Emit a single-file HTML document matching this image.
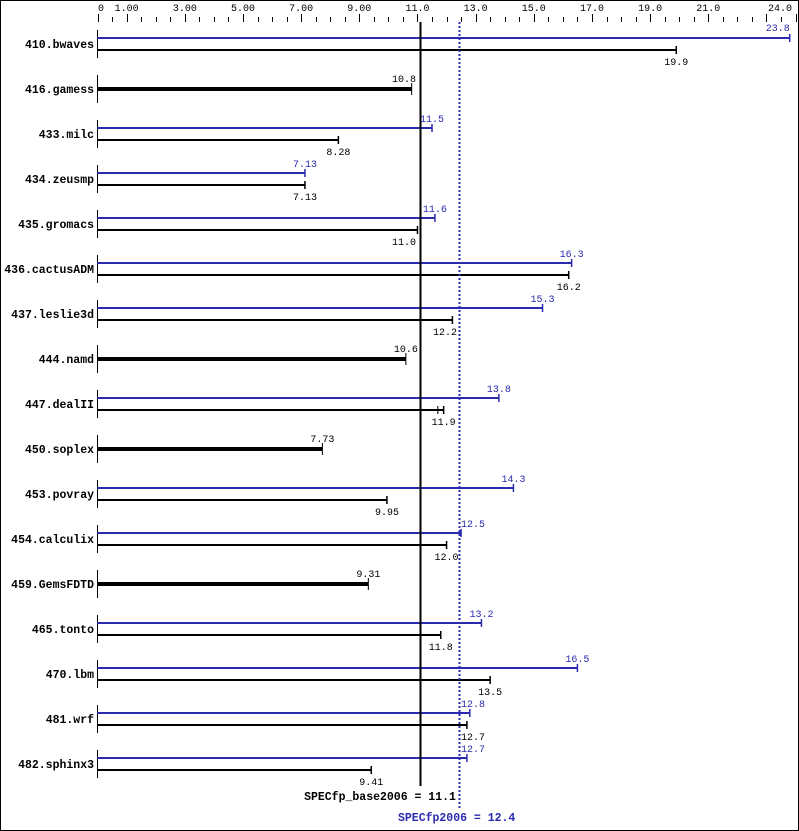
<!DOCTYPE html>
<html><head><meta charset="utf-8"><style>
html,body{margin:0;padding:0;background:#fff}
svg{display:block}
text{font-family:"Liberation Mono","DejaVu Sans Mono",monospace;font-size:10px}
.n{font-weight:bold;font-size:11.5px}
</style></head><body>
<svg id="s" width="799" height="831" viewBox="0 0 799 831" xmlns="http://www.w3.org/2000/svg">
<rect x="0.5" y="0.5" width="798" height="830" fill="#fff" stroke="#000"/>
</svg>
<script>
const s=document.getElementById('s');
const O=97.6,K=29.08,X=v=>O+v*K;
let h='';
const L=(x1,y1,x2,y2,c,w,extra)=>h+=`<line x1="${x1}" y1="${y1}" x2="${x2}" y2="${y2}" stroke="${c}" stroke-width="${w}" ${extra||''}/>`;
const T=(x,y,t,c,a,cl)=>h+=`<text x="${x}" y="${y}" fill="${c}" text-anchor="${a||'middle'}" ${cl?'class="'+cl+'"':''}>${t}</text>`;
const VT=(xc,y,t,c)=>{const w=t.length*6;let x0=xc-w/2;
 if(x0<420&&x0+w>420){ if(xc<420) x0=416-w; else x0=422;}
 if(x0<459&&x0+w>459){ if(xc<459) x0=457-w; else x0=461;}
 T(x0,y,t,c,'start');};
for(let v=0;v<=24.01;v+=0.5){const x=Math.round(X(v))+0.5;const major=(v===0)||(Math.abs((v-1)%2)<0.01&&v>=1)||v===24;L(x,major?14:17,x,22,'#000',1);}
T(101,11,'0','#000');
const labs=[[1,'1.00'],[3,'3.00'],[5,'5.00'],[7,'7.00'],[9,'9.00'],[11,'11.0'],[13,'13.0'],[15,'15.0'],[17,'17.0'],[19,'19.0'],[21,'21.0']];
labs.forEach(([v,t])=>T(X(v),11,t,'#000'));
T(792,11,'24.0','#000','end');
const B='#2a2ab0';
const rows=[['410.bwaves',23.8,19.9],['416.gamess',null,10.8],['433.milc',11.5,8.28],['434.zeusmp',7.13,7.13],['435.gromacs',11.6,11.0],['436.cactusADM',16.3,16.2],['437.leslie3d',15.3,12.2],['444.namd',null,10.6],['447.dealII',13.8,11.9],['450.soplex',null,7.73],['453.povray',14.3,9.95],['454.calculix',12.5,12.0],['459.GemsFDTD',null,9.31],['465.tonto',13.2,11.8],['470.lbm',16.5,13.5],['481.wrf',12.8,12.7],['482.sphinx3',12.7,9.41]];
const fmt=v=>v>=10?v.toFixed(1):v.toFixed(2);
rows.forEach((r,i)=>{const cy=44+45*i;const [n,p,b]=r;
 T(94,cy+4,n,'#000','end','n');
 L(97.5,cy-14,97.5,cy+14,'#000',1);
 if(p===null){const xe=X(b);L(97,cy,xe,cy,'#000',4);L(xe,cy-6,xe,cy+6,'#000',1);
   VT(xe,cy-7,fmt(b),'#000');}
 else{const xp=X(p),xb=X(b);
   L(97,cy-6,xp,cy-6,B,2);L(xp,cy-10,xp,cy-2,B,1.5);
   if(n==='410.bwaves'){T(xp,cy-13,fmt(p),B,'end');} else VT(xp,cy-12,fmt(p),B);
   L(97,cy+6,xb,cy+6,'#000',2);L(xb,cy+2,xb,cy+10,'#000',1.5);
   if(n==='447.dealII'){L(X(11.7),cy+2,X(11.7),cy+10,'#000',1);}
   VT(xb,cy+21,fmt(b),'#000');}
});
L(420.5,22,420.5,786,'#000',2);
L(459.5,22,459.5,808,B,2,'stroke-dasharray="2,2"');
h+=`<text x="380" y="800" fill="#000" text-anchor="middle" class="n">SPECfp_base2006 = 11.1</text>`;
h+=`<text x="398" y="821" fill="${B}" class="n">SPECfp2006 = 12.4</text>`;
s.insertAdjacentHTML('beforeend',h);
</script>
</body></html>
